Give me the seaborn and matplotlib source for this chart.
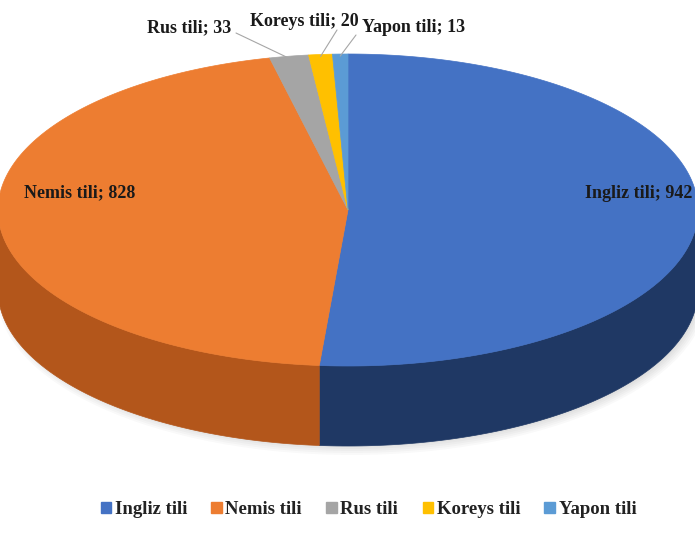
import numpy as np
import matplotlib.pyplot as plt
import seaborn as sns
from matplotlib.patches import Polygon, Patch, Ellipse

# data
languages = ['Ingliz tili', 'Nemis tili', 'Rus tili', 'Koreys tili', 'Yapon tili']
counts = [942, 828, 33, 20, 13]
top_colors = ['#4472C4', '#ED7D31', '#A5A5A5', '#FFC000', '#5B9BD5']
side_colors = ['#1F3864', '#B3561B', '#7A7A7A', '#B38600', '#35679A']

sns.set_theme(style='white')
plt.rcParams['font.family'] = ['Liberation Serif', 'DejaVu Serif']

# pie geometry in pixels
cx, cy = 348, 210
a, b = 350, 156
depth = 80

fig = plt.figure(figsize=(6.95, 5.34), dpi=100)
ax = fig.add_axes([0, 0, 1, 1])
ax.set_xlim(0, 695)
ax.set_ylim(534, 0)
ax.axis('off')


def pt(theta, dy=0.0):
    t = np.radians(theta)
    return cx + a * np.sin(t), cy - b * np.cos(t) + dy


fracs = np.array(counts) / sum(counts)
edges = np.concatenate([[0], np.cumsum(fracs) * 360])

# soft shadow under the pie
for k in range(6):
    ax.add_patch(Ellipse((cx + 4, cy + depth + 4), 2 * a + 10 - k * 4, 2 * b + 10 - k * 4,
                         color='#000000', alpha=0.025, lw=0, zorder=0))

# side walls (front half only)
for i in range(len(counts)):
    lo, hi = max(edges[i], 90), min(edges[i + 1], 270)
    if hi <= lo:
        continue
    th = np.linspace(lo, hi, 100)
    xs, ys = pt(th)
    poly = np.column_stack([np.concatenate([xs, xs[::-1]]),
                            np.concatenate([ys, ys[::-1] + depth])])
    ax.add_patch(Polygon(poly, closed=True, fc=side_colors[i], ec=side_colors[i], lw=0.5, zorder=1))

# top faces
for i in range(len(counts)):
    th = np.linspace(edges[i], edges[i + 1], 200)
    xs, ys = pt(th)
    poly = np.column_stack([np.concatenate([[cx], xs]), np.concatenate([[cy], ys])])
    ax.add_patch(Polygon(poly, closed=True, fc=top_colors[i], ec=top_colors[i], lw=0.5, zorder=2))

# labels
mids = (edges[:-1] + edges[1:]) / 2
lab_kw = dict(fontsize=13, fontweight='bold', color='#1a1a1a', zorder=5)
for i, r in zip(range(2), [0.83, 0.77]):
    x, y = cx + a * r * np.sin(np.radians(mids[i])), cy - 17
    ax.text(x, y, f'{languages[i]}; {counts[i]}', ha='center', va='center', **lab_kw)

small_pos = [(189, 28), (304, 21), (414, 28)]
small_anchor = [(236, 33), (337, 30), (356, 35)]
for j, i in enumerate(range(2, 5)):
    tx, ty = small_pos[j]
    ax.text(tx, ty, f'{languages[i]}; {counts[i]}', ha='center', va='center', **lab_kw)
    ex, ey = pt(mids[i])
    ax.plot([small_anchor[j][0], ex], [small_anchor[j][1], ey + 2], color='#A6A6A6', lw=0.8, zorder=4)

handles = [Patch(fc=c, ec=c) for c in top_colors]
fig.legend(handles, languages, loc='center', bbox_to_anchor=(0.53, 0.045), ncol=5,
           frameon=False, handlelength=0.55, handleheight=0.55, handletextpad=0.2,
           columnspacing=1.3, prop={'family': 'Liberation Serif', 'weight': 'bold', 'size': 13.5},
           labelcolor='#222222')

fig.savefig('out.png', dpi=100)
